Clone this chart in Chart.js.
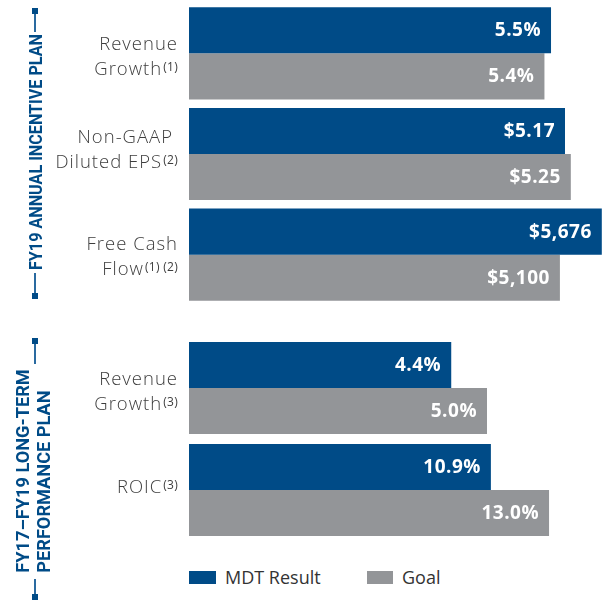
<!DOCTYPE html>
<html lang="en">
<head>
    <meta charset="UTF-8" />
    <title>MDT Incentive Plan Results</title>
    <script src="https://cdn.jsdelivr.net/npm/chart.js"></script>
    <style>
        body {
            margin: 0;
            background: #fff;
            font-family: 'Open Sans', Arial, sans-serif;
        }
        .page { position: relative; width: 605px; height: 601px; overflow: hidden; }
        .box { position: absolute; left: 0; width: 605px; }
        #topBox { top: 3px; height: 302px; }
        #bottomBox { top: 337px; height: 204px; }

        .side {
            position: absolute;
            white-space: nowrap;
            font-family: Roboto, 'Open Sans', sans-serif;
            font-weight: 700;
            font-size: 18px;
            line-height: 21px;
            color: #004b87;
            text-align: left;
        }
        .rule { position: absolute; left: 34px; width: 2px; background: #2a6aa0; }
        .cap { position: absolute; left: 32px; width: 6px; height: 6px; background: #004b87; }

        .legend-sw { position: absolute; top: 571px; height: 13px; }
        .legend-tx { position: absolute; top: 568px; font-size: 18px; line-height: 18px; color: #333; }
    </style>
</head>
<body>
<div class="page">
    <div class="box" id="topBox"><canvas id="topChart" width="605" height="302"></canvas></div>
    <div class="box" id="bottomBox"><canvas id="bottomChart" width="605" height="204"></canvas></div>

    <!-- section brackets -->
    <div class="cap" style="top:8px"></div>
    <div class="rule" style="top:14px;height:18px"></div>
    <div class="rule" style="top:273px;height:20px"></div>
    <div class="cap" style="top:293px"></div>
    <div class="side" id="side1" style="left:35px;top:152px">FY19 ANNUAL INCENTIVE PLAN</div>

    <div class="cap" style="top:338px"></div>
    <div class="rule" style="top:344px;height:20px"></div>
    <div class="rule" style="top:579px;height:15px"></div>
    <div class="cap" style="top:594px"></div>
    <div class="side" id="side2" style="left:33px;top:471px">FY17–FY19 LONG-TERM<br>PERFORMANCE PLAN</div>

    <!-- legend -->
    <div class="legend-sw" style="left:189px;width:27px;background:#004b87"></div>
    <div class="legend-tx" style="left:225px">MDT Result</div>
    <div class="legend-sw" style="left:367px;width:26px;background:#939598"></div>
    <div class="legend-tx" style="left:402px">Goal</div>
</div>

<script>
    // metrics, top to bottom
    const categories = [['Revenue', 'Growth'], ['Non-GAAP', 'Diluted EPS'], ['Free Cash', 'Flow'], ['Revenue', 'Growth'], ['ROIC']];
    const notes = ['(1)', '(2)', '(1) (2)', '(3)', '(3)'];
    const mdtResult = [5.5, 5.17, 5676, 4.4, 10.9];
    const goal = [5.4, 5.25, 5100, 5.0, 13.0];
    const units = ['%', '$', '$', '%', '%'];
    const decimals = [1, 2, 0, 1, 1];
    // each metric is drawn on its own hidden scale
    const axisMax = [6.32, 5.72, 5720, 6.98, 15.02];
    const annualPlan = [0, 1, 2];
    const longTermPlan = [3, 4];

    const BLUE = '#004b87';
    const GRAY = '#939598';

    function fmt(k, v) {
        if (units[k] === '%') return v.toFixed(decimals[k]) + '%';
        return '$' + v.toLocaleString('en-US', { minimumFractionDigits: decimals[k], maximumFractionDigits: decimals[k] });
    }

    const valueLabels = {
        id: 'valueLabels',
        afterDatasetsDraw(chart) {
            const ctx = chart.ctx;
            ctx.save();
            ctx.font = 'bold 19px "Open Sans"';
            ctx.letterSpacing = '0.5px';
            ctx.fillStyle = '#fff';
            ctx.textAlign = 'right';
            ctx.textBaseline = 'alphabetic';
            chart.data.datasets.forEach((ds, i) => {
                chart.getDatasetMeta(i).data.forEach((bar, j) => {
                    const v = ds.data[j];
                    if (v == null) return;
                    ctx.fillText(fmt(ds.metric, v), bar.x - 10, bar.y + 6);
                });
            });
            ctx.restore();
        }
    };

    // category names with superscript notes
    const catLabels = {
        id: 'catLabels',
        afterDraw(chart, args, opts) {
            const ctx = chart.ctx;
            const right = 178;
            ctx.save();
            ctx.fillStyle = '#3d3d3d';
            ctx.textBaseline = 'alphabetic';
            ctx.textAlign = 'right';
            opts.idx.forEach((k, j) => {
                const cy = chart.scales.y.getPixelForValue(j);
                const lines = categories[k];
                let base = lines.length === 1 ? cy + 3 : cy - 3.5 + (opts.nudge[k] || 0);
                lines.forEach((line, li) => {
                    let r = right - (opts.indent[k] && li === 0 ? opts.indent[k] : 0);
                    if (li === lines.length - 1) {
                        ctx.font = '12px "Open Sans"';
                        ctx.letterSpacing = '0.3px';
                        const w = ctx.measureText(notes[k]).width;
                        ctx.fillText(notes[k], right, base - 4);
                        r = right - w - 1;
                    }
                    ctx.font = '300 18.5px "Open Sans"';
                    ctx.letterSpacing = '1px';
                    ctx.fillText(line, r, base);
                    base += 25;
                });
            });
            ctx.restore();
        }
    };

    function buildChart(id, idx, catPct) {
        const datasets = [];
        const scales = { y: { type: 'category', display: false } };
        idx.forEach((k, j) => {
            const only = vals => idx.map((_, jj) => (jj === j ? vals[k] : null));
            datasets.push({ label: 'MDT Result', data: only(mdtResult), backgroundColor: BLUE, xAxisID: 'x' + k, metric: k });
            datasets.push({ label: 'Goal', data: only(goal), backgroundColor: GRAY, xAxisID: 'x' + k, metric: k });
            scales['x' + k] = { type: 'linear', axis: 'x', position: 'bottom', min: 0, max: axisMax[k], display: false };
        });
        datasets.forEach(ds => {
            ds.categoryPercentage = catPct;
            ds.barPercentage = 1;
            ds.skipNull = true;
            ds.borderWidth = 0;
        });
        return new Chart(document.getElementById(id), {
            type: 'bar',
            data: { labels: idx.map(k => categories[k].join(' ')), datasets },
            options: {
                indexAxis: 'y',
                responsive: false,
                animation: false,
                layout: { padding: { left: 189, right: 0, top: 0, bottom: 0 } },
                scales,
                plugins: {
                    legend: { display: false },
                    tooltip: { enabled: false },
                    catLabels: { idx, nudge: { 1: -8, 2: -1 }, indent: { 1: 5 } }
                }
            },
            plugins: [valueLabels, catLabels]
        });
    }

    buildChart('topChart', annualPlan, 0.915);
    buildChart('bottomChart', longTermPlan, 0.9);

    // vertical section titles, stretched to the bracket length
    function placeSide(el, len) {
        const w = el.offsetWidth;
        el.style.transformOrigin = '0 0';
        el.style.transform = 'rotate(-90deg) scaleX(' + (len / w) + ') translate(-50%, -50%)';
    }
    placeSide(document.getElementById('side1'), 236);
    placeSide(document.getElementById('side2'), 203);
</script>
</body>
</html>
